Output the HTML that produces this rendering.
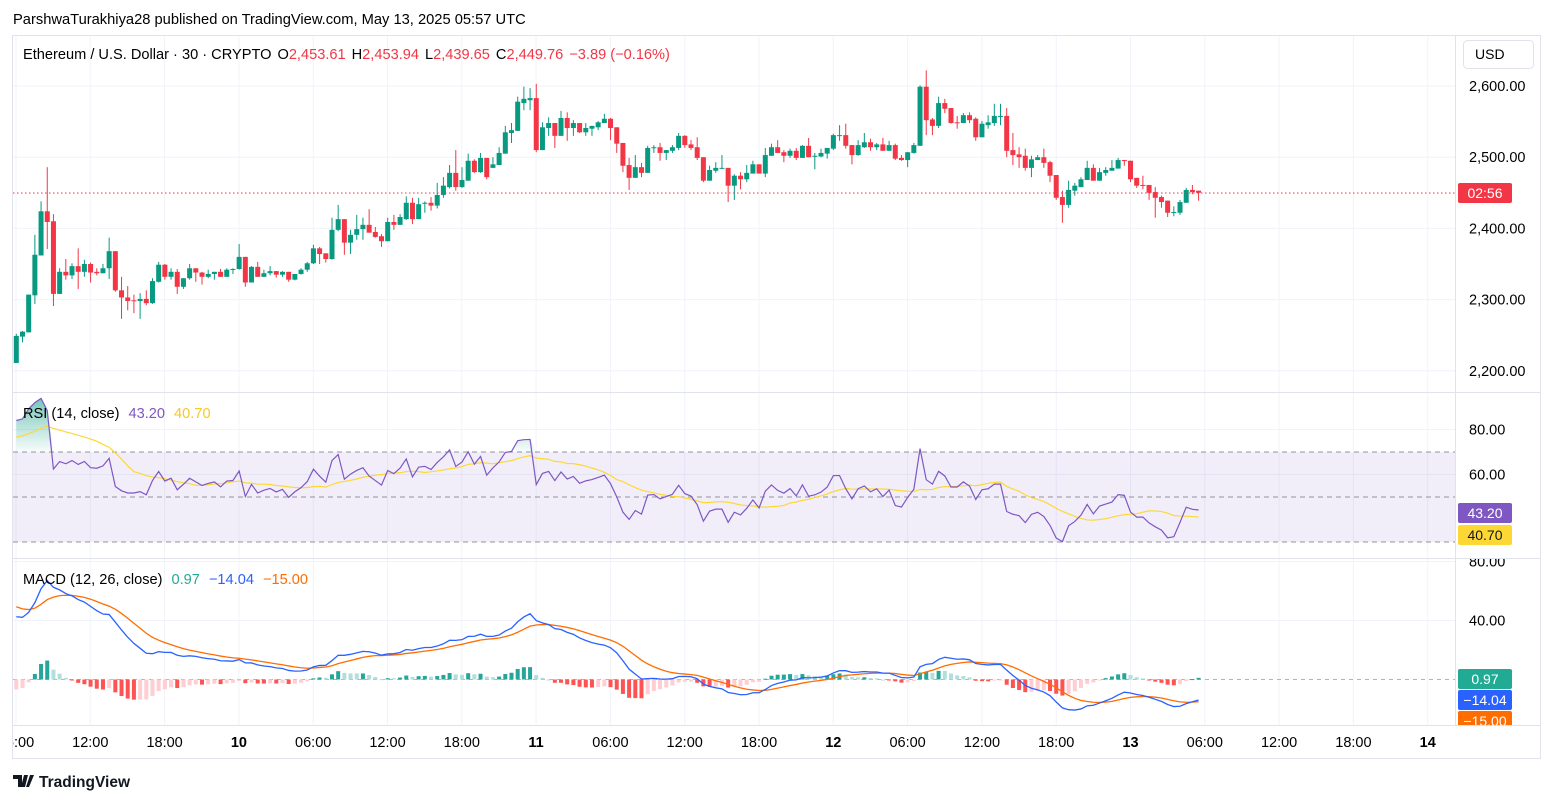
<!DOCTYPE html>
<html><head><meta charset="utf-8">
<style>
html,body{margin:0;padding:0;background:#fff;}
body{width:1553px;height:803px;overflow:hidden;font-family:"Liberation Sans",sans-serif;color:#131722;}
svg text{font-family:"Liberation Sans",sans-serif;}
</style></head>
<body>
<svg id="chart" width="1553" height="803" xmlns="http://www.w3.org/2000/svg">
<defs>
<clipPath id="cpMain"><rect x="13" y="36" width="1442" height="356"/></clipPath>
<clipPath id="cpRsi"><rect x="13" y="393" width="1442" height="165"/></clipPath>
<clipPath id="cpMacd"><rect x="13" y="559" width="1442" height="166"/></clipPath>
<clipPath id="cpMacdAxis"><rect x="1455" y="559" width="90" height="166"/></clipPath>
<clipPath id="cpTime"><rect x="13" y="726" width="1528" height="32"/></clipPath>
<linearGradient id="obFill" x1="0" y1="0" x2="0" y2="1"><stop offset="0" stop-color="#089981" stop-opacity="0.55"/><stop offset="1" stop-color="#089981" stop-opacity="0.03"/></linearGradient>
</defs>
<text x="13" y="24" font-size="14.7">ParshwaTurakhiya28 published on TradingView.com, May 13, 2025 05:57 UTC</text>
<rect x="12.5" y="35.5" width="1528" height="723" fill="none" stroke="#e0e3eb"/>
<g id="grid"></g>
<g id="main" clip-path="url(#cpMain)"></g>
<g id="rsi" clip-path="url(#cpRsi)"></g>
<g id="macd" clip-path="url(#cpMacd)"></g>
<g id="axes"></g>
<g id="taxis" clip-path="url(#cpTime)"></g>
<line x1="12" y1="392.5" x2="1541" y2="392.5" stroke="#e0e3eb"/>
<line x1="12" y1="558.5" x2="1541" y2="558.5" stroke="#e0e3eb"/>
<line x1="12" y1="725.5" x2="1541" y2="725.5" stroke="#e0e3eb"/>
<line x1="1455.5" y1="35" x2="1455.5" y2="725" stroke="#e0e3eb"/>
<rect x="1463.5" y="40.5" width="70" height="28" rx="4" fill="#fff" stroke="#e0e3eb"/>
<text x="1475" y="59" font-size="14">USD</text>
<text x="23" y="59" font-size="14.6"><tspan>Ethereum / U.S. Dollar · 30 · CRYPTO</tspan><tspan dx="6">O</tspan><tspan fill="#f23645">2,453.61</tspan><tspan dx="6">H</tspan><tspan fill="#f23645">2,453.94</tspan><tspan dx="6">L</tspan><tspan fill="#f23645">2,439.65</tspan><tspan dx="6">C</tspan><tspan fill="#f23645">2,449.76</tspan><tspan dx="6" fill="#f23645">−3.89 (−0.16%)</tspan></text>
<text x="23" y="418" font-size="14.6"><tspan>RSI (14, close)</tspan><tspan dx="9" fill="#7e57c2">43.20</tspan><tspan dx="9" fill="#f7c72b">40.70</tspan></text>
<text x="23" y="584" font-size="14.6"><tspan>MACD (12, 26, close)</tspan><tspan dx="9" fill="#22ab94">0.97</tspan><tspan dx="9" fill="#2962ff">−14.04</tspan><tspan dx="9" fill="#ff6d00">−15.00</tspan></text>
<g>
<path d="M13 775 h9 v12 h-4 v-8 h-5 z M24 775 h4 l-3 12 h-4 z M30 775 h4 l-5 12 h-3 z" fill="#131722"/>
<text x="39" y="787" font-size="15.5" font-weight="bold" fill="#131722">TradingView</text>
</g>
</svg>
<script>
const opens=[2211,2248,2254,2306,2362,2424,2410,2308,2339,2334,2347,2339,2350,2339,2337,2344,2368,2313,2303,2299,2298,2301,2295,2325,2349,2332,2339,2318,2330,2344,2338,2332,2336,2339,2332,2342,2343,2360,2324,2346,2332,2337,2340,2335,2339,2328,2336,2342,2351,2372,2365,2357,2398,2413,2380,2391,2399,2405,2395,2389,2382,2409,2405,2413,2436,2413,2435,2436,2432,2447,2458,2478,2458,2467,2495,2479,2499,2485,2489,2505,2534,2537,2576,2580,2583,2510,2541,2548,2530,2555,2541,2548,2535,2540,2542,2548,2554,2542,2520,2489,2471,2486,2478,2513,2514,2506,2509,2513,2530,2518,2514,2500,2467,2481,2485,2485,2460,2474,2469,2477,2490,2477,2502,2514,2507,2502,2509,2499,2516,2501,2501,2505,2512,2531,2531,2517,2503,2514,2521,2514,2518,2509,2517,2499,2496,2506,2516,2599,2553,2544,2576,2569,2549,2548,2559,2554,2528,2545,2548,2558,2558,2510,2504,2502,2485,2496,2500,2493,2475,2444,2433,2453,2458,2468,2485,2467,2478,2481,2484,2496,2495,2471,2461,2461,2451,2444,2439,2423,2422,2436,2454,2453];
const closes=[2249,2255,2307,2363,2424,2409,2308,2339,2334,2347,2339,2350,2338,2337,2344,2368,2313,2303,2298,2298,2301,2295,2326,2349,2332,2339,2318,2330,2344,2338,2332,2336,2339,2332,2342,2343,2360,2324,2346,2332,2337,2340,2335,2339,2328,2336,2342,2351,2372,2364,2357,2398,2413,2380,2391,2399,2405,2394,2388,2382,2409,2405,2416,2436,2413,2434,2436,2432,2447,2460,2478,2458,2468,2495,2479,2499,2472,2490,2506,2535,2538,2578,2582,2583,2510,2542,2548,2530,2555,2541,2548,2535,2541,2544,2549,2554,2541,2519,2488,2471,2486,2478,2513,2514,2506,2510,2514,2530,2517,2513,2499,2467,2482,2485,2485,2460,2474,2469,2478,2490,2477,2503,2514,2506,2502,2509,2499,2516,2500,2502,2506,2513,2531,2531,2516,2503,2517,2521,2514,2518,2509,2517,2498,2496,2507,2517,2599,2552,2544,2576,2568,2548,2548,2559,2552,2528,2547,2549,2558,2558,2509,2503,2500,2485,2497,2500,2492,2474,2443,2433,2454,2460,2469,2485,2467,2479,2482,2485,2496,2495,2469,2460,2460,2450,2443,2437,2422,2423,2437,2454,2451,2450];
const highs=[2252,2256,2307,2391,2438,2486,2420,2344,2357,2351,2372,2356,2352,2344,2350,2387,2368,2332,2319,2307,2309,2313,2330,2353,2350,2344,2343,2330,2350,2344,2339,2342,2339,2343,2344,2344,2378,2360,2347,2353,2342,2347,2340,2340,2339,2336,2344,2353,2377,2374,2365,2415,2433,2413,2398,2419,2415,2427,2402,2392,2415,2419,2420,2445,2443,2443,2438,2444,2464,2472,2489,2510,2486,2505,2497,2506,2499,2500,2514,2544,2548,2585,2599,2597,2603,2549,2556,2548,2565,2563,2552,2548,2548,2544,2551,2561,2555,2542,2520,2499,2503,2492,2516,2517,2520,2510,2517,2534,2531,2524,2528,2500,2488,2493,2503,2485,2476,2479,2489,2495,2490,2513,2519,2524,2510,2512,2513,2517,2527,2506,2512,2513,2533,2545,2547,2517,2524,2534,2526,2520,2527,2523,2519,2503,2507,2520,2601,2622,2555,2585,2582,2569,2558,2562,2563,2556,2551,2559,2575,2575,2569,2534,2514,2512,2502,2503,2512,2495,2475,2453,2467,2464,2472,2495,2490,2485,2486,2496,2499,2496,2495,2471,2474,2461,2458,2446,2439,2431,2440,2457,2461,2453];
const lows=[2211,2240,2254,2294,2362,2371,2291,2308,2328,2329,2315,2332,2324,2334,2337,2329,2311,2273,2285,2281,2273,2292,2294,2324,2328,2328,2308,2315,2328,2325,2321,2330,2328,2332,2332,2336,2342,2318,2324,2332,2332,2334,2331,2332,2325,2327,2335,2339,2350,2350,2352,2356,2396,2363,2364,2384,2384,2394,2387,2374,2382,2398,2405,2412,2406,2413,2422,2425,2428,2443,2456,2453,2457,2467,2478,2478,2469,2485,2489,2505,2520,2537,2566,2566,2507,2510,2530,2513,2530,2523,2530,2534,2530,2530,2538,2548,2524,2506,2479,2454,2471,2472,2478,2506,2495,2496,2506,2510,2513,2510,2496,2465,2467,2478,2484,2437,2440,2455,2465,2477,2477,2472,2502,2506,2493,2499,2496,2499,2500,2483,2500,2498,2510,2523,2512,2490,2502,2513,2509,2510,2509,2509,2496,2495,2486,2505,2516,2531,2531,2541,2562,2547,2540,2548,2548,2523,2528,2540,2544,2545,2500,2489,2485,2481,2472,2496,2485,2465,2440,2408,2429,2446,2458,2468,2467,2467,2474,2481,2484,2488,2465,2457,2455,2440,2415,2429,2416,2417,2419,2436,2448,2439];
const priceTicks=[2600,2500,2400,2300,2200];
const rsiTicks=[80,60];
const macdTicks=[80,40];
const timeLabels=["06:00","12:00","18:00","10","06:00","12:00","18:00","11","06:00","12:00","18:00","12","06:00","12:00","18:00","13","06:00","12:00","18:00","14"];
const boldLabels=["10","11","12","13","14"];
const lastPrice=2449.76;

const NS="http://www.w3.org/2000/svg";
function mk(tag,parent,attrs){const e=document.createElementNS(NS,tag);for(const k in attrs)e.setAttribute(k,attrs[k]);parent.appendChild(e);return e;}
const X0=16.3, DX=6.19;
const xOf=i=>X0+i*DX;
const yP=p=>86+(2600-p)*0.712;
const yR=v=>542-(v-30)*2.25;
const yM=v=>679.5-v*1.475;
const grid=document.getElementById('grid'), main=document.getElementById('main'), rsiG=document.getElementById('rsi'), macdG=document.getElementById('macd'), axes=document.getElementById('axes'), taxis=document.getElementById('taxis');

timeLabels.forEach((t,k)=>{
  const x=16+k*74.3;
  const gl=mk('line',grid,{x1:x,y1:36,x2:x,y2:725,stroke:'#f0f3fa'});
  
  
  const tx=mk('text',taxis,{x:x,y:747,'font-size':14.5,'text-anchor':'middle','font-weight':boldLabels.includes(t)?'bold':'normal'});
  
  
  tx.textContent=t;
});
priceTicks.forEach(p=>{
  const y=yP(p);
  const gl=mk('line',grid,{x1:13,y1:y,x2:1455,y2:y,stroke:'#f0f3fa'});
  
  
  const tx=mk('text',axes,{x:1469,y:y+5,'font-size':14.5});
  
  
  tx.textContent=p.toLocaleString('en-US',{minimumFractionDigits:2});
});
for(let i=0;i<closes.length;i++){
  const up=closes[i]>=opens[i], col=up?'#089981':'#f23645', x=xOf(i);
  const w=mk('line',main,{x1:x,y1:yP(highs[i]),x2:x,y2:yP(lows[i]),stroke:col,'stroke-width':1});
  
  
  const t=Math.min(yP(opens[i]),yP(closes[i])), h=Math.max(1,Math.abs(yP(opens[i])-yP(closes[i])));
  const b=mk('rect',main,{x:x-2.5,y:t,width:5,height:h,fill:col});
  
  
}
const ly=yP(lastPrice);
const pl=mk('line',main,{x1:13,y1:ly,x2:1455,y2:ly,stroke:'#f23645','stroke-dasharray':'1.5 2.5'});


const lb=mk('rect',axes,{x:1458,y:ly-10,width:54,height:20,rx:2,fill:'#f23645'});


const lt=mk('text',axes,{x:1485,y:ly+5,'font-size':14,fill:'#fff','text-anchor':'middle'});


lt.textContent='02:56';

let aG=6,aL=1.7; const rsiVals=[];
for(let i=0;i<closes.length;i++){
  const ch=closes[i]-(i?closes[i-1]:opens[i]);
  aG=(aG*13+Math.max(ch,0))/14; aL=(aL*13+Math.max(-ch,0))/14;
  rsiVals.push(100-100/(1+aG/aL));
}
const rsiMa=rsiVals.map((v,i)=>{let s=0;for(let k=i-13;k<=i;k++)s+=k<0?76:rsiVals[k];return s/14;});
const band=mk('rect',rsiG,{x:13,y:yR(70),width:1442,height:yR(30)-yR(70),fill:'rgba(126,87,194,0.1)'});


rsiTicks.forEach(v=>{
  const gl=mk('line',grid,{x1:13,y1:yR(v),x2:1455,y2:yR(v),stroke:'#f0f3fa'});
  
  
  const tx=mk('text',axes,{x:1469,y:yR(v)+5,'font-size':14.5});
  
  
  tx.textContent=v.toFixed(2);
});
[70,50,30].forEach(v=>{
  const l=mk('line',rsiG,{x1:13,y1:yR(v),x2:1455,y2:yR(v),stroke:'#787b86','stroke-dasharray':'5 4','stroke-opacity':0.8});
  
  
});
let ob='M'+xOf(0)+' '+yR(70);
rsiVals.forEach((v,i)=>{ob+=' L'+xOf(i)+' '+Math.min(yR(v),yR(70));});
ob+=' L'+xOf(rsiVals.length-1)+' '+yR(70)+'Z';
const obp=mk('path',rsiG,{d:ob,fill:'url(#obFill)'});


const ma=mk('polyline',rsiG,{points:rsiMa.map((v,i)=>xOf(i)+','+yR(v)).join(' '),fill:'none',stroke:'#fdd835','stroke-width':1.2});


const rl=mk('polyline',rsiG,{points:rsiVals.map((v,i)=>xOf(i)+','+yR(v)).join(' '),fill:'none',stroke:'#7e57c2','stroke-width':1.2});



let e12=2215,e26=2172,sig=51; const macdVals=[],sigVals=[],histVals=[];
for(let i=0;i<closes.length;i++){
  e12+=(closes[i]-e12)*2/13; e26+=(closes[i]-e26)*2/27;
  const m=e12-e26; sig+=(m-sig)*2/10;
  macdVals.push(m); sigVals.push(sig); histVals.push(m-sig);
}
macdTicks.forEach(v=>{
  const gl=mk('line',grid,{x1:13,y1:yM(v),x2:1455,y2:yM(v),stroke:'#f0f3fa'});
  
  
});
const ag=mk('g',axes,{'clip-path':'url(#cpMacdAxis)'});
macdTicks.forEach(v=>{
  const tx=mk('text',ag,{x:1469,y:yM(v)+5,'font-size':14.5});
  
  
  tx.textContent=v.toFixed(2);
});
const zl=mk('line',macdG,{x1:13,y1:yM(0),x2:1455,y2:yM(0),stroke:'#b2b5be','stroke-dasharray':'4 4'});


histVals.forEach((h,i)=>{
  const prev=i?histVals[i-1]:h;
  const col=h>=0?(h>=prev?'#26a69a':'#b2dfdb'):(h<prev?'#ff5252':'#ffcdd2');
  const y0=yM(0),y1=yM(h);
  const r=mk('rect',macdG,{x:xOf(i)-2,y:Math.min(y0,y1),width:4,height:Math.max(1,Math.abs(y1-y0)),fill:col});
  
  
});
const sl=mk('polyline',macdG,{points:sigVals.map((v,i)=>xOf(i)+','+yM(v)).join(' '),fill:'none',stroke:'#ff6d00','stroke-width':1.3});


const ml=mk('polyline',macdG,{points:macdVals.map((v,i)=>xOf(i)+','+yM(v)).join(' '),fill:'none',stroke:'#2962ff','stroke-width':1.3});



const badges=[
 {y:513,fill:'#7e57c2',tc:'#fff',t:'43.20',n:'rsi-value-badge',g:axes},
 {y:535,fill:'#fdd835',tc:'#131722',t:'40.70',n:'rsi-ma-value-badge',g:axes},
 {y:679,fill:'#22ab94',tc:'#fff',t:'0.97',n:'macd-hist-value-badge',g:ag},
 {y:700,fill:'#2962ff',tc:'#fff',t:'−14.04',n:'macd-value-badge',g:ag},
 {y:721,fill:'#ff6d00',tc:'#fff',t:'−15.00',n:'macd-signal-value-badge',g:ag}
];
badges.forEach(b=>{
  const r=mk('rect',b.g,{x:1458,y:b.y-10,width:54,height:20,rx:2,fill:b.fill});
  
  
  const t=mk('text',b.g,{x:1485,y:b.y+5,'font-size':14,fill:b.tc,'text-anchor':'middle'});
  
  
  t.textContent=b.t;
});
</script>
</body></html>
